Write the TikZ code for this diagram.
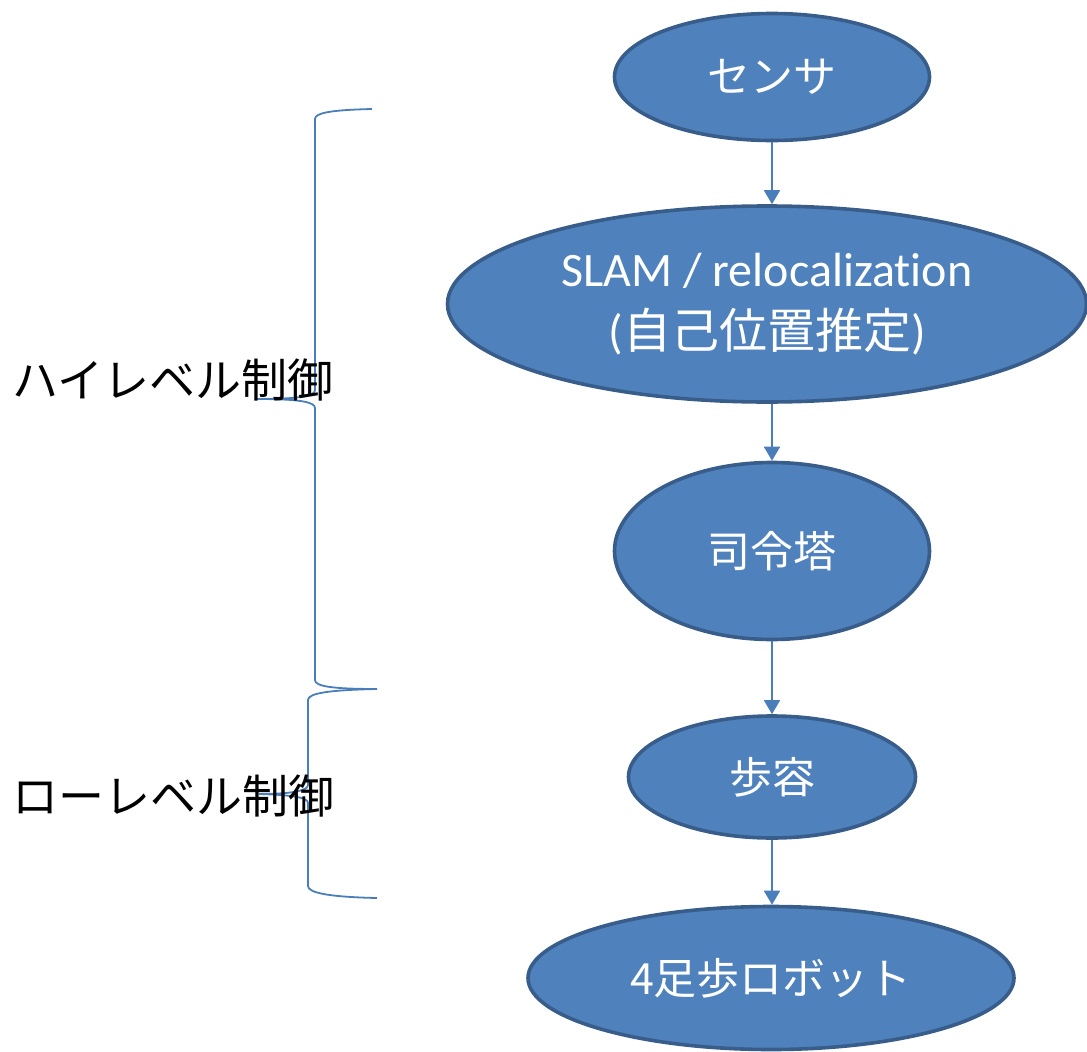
\documentclass[tikz,border=0pt]{standalone}
\usepackage{fontspec}
\setmainfont{Carlito}
\newfontfamily\jp{Noto Sans CJK JP}
\newfontfamily\lat{Carlito}[Ligatures=NoCommon]
\usetikzlibrary{shapes.geometric,arrows.meta}
\definecolor{fillblue}{HTML}{4F81BD}
\definecolor{edgeblue}{HTML}{385D8A}
\definecolor{linkblue}{HTML}{4A7EBB}
\tikzset{
  bubble/.style={ellipse, draw=edgeblue, fill=fillblue, line width=3.6pt, text=white,
    inner sep=0pt, align=center, font=\fontsize{43}{62}\selectfont\jp},
  bigtext/.style={font=\fontsize{48}{62}\selectfont\jp},
  link/.style={draw=linkblue, line width=1.8pt, -{Triangle[width=16pt,length=14pt]}},
  bracket/.style={draw=linkblue, line width=1.8pt},
  sidelabel/.style={anchor=west, inner sep=0pt, text=black, font=\fontsize{46}{50}\selectfont\jp}
}
\begin{document}
\begin{tikzpicture}[x=1pt,y=-1pt]
\useasboundingbox (0,0) rectangle (1087,1052);
\node[bubble, minimum width=315pt, minimum height=127pt] (sensor) at (772,77) {センサ};
\node[bubble, bigtext, minimum width=639pt, minimum height=196pt] (slam) at (767,304)
  {{\lat SLAM / relocalization}\\{\lat (}自己位置推定{\lat )}};
\node[bubble, minimum width=315pt, minimum height=177pt] (cmd) at (772,551) {司令塔};
\node[bubble, minimum width=287pt, minimum height=122pt] (gait) at (772,777) {歩容};
\node[bubble, minimum width=486pt, minimum height=143pt] (robot) at (771,978) {4足歩ロボット};

\draw[link] (sensor.south) -- (sensor.south |- slam.north);
\draw[link] (slam.south -| cmd.north) -- (cmd.north);
\draw[link] (cmd.south) -- (gait.north);
\draw[link] (gait.south) -- (gait.south |- robot.north);

\coordinate (b1top) at (372,109);
\coordinate (b1tip) at (257,399);
\coordinate (bmid) at (377,689);
\coordinate (b2tip) at (259,794);
\coordinate (b2bot) at (377,898);

\draw[bracket] (b1top) .. controls (330,110) and (315,113) .. (315,119) -- (315,390)
  .. controls (315,396) and (300,399) .. (b1tip)
  .. controls (300,399) and (315,402) .. (315,408) -- (315,680)
  .. controls (315,686) and (330,689) .. (bmid);
\draw[bracket] (bmid) .. controls (330,690) and (308,693) .. (308,700) -- (308,785)
  .. controls (308,790) and (295,794) .. (b2tip)
  .. controls (295,795) and (308,798) .. (308,803) -- (308,886)
  .. controls (308,893) and (330,897) .. (b2bot);

\node[sidelabel] (high) at (12,380) {ハイレベル制御};
\node[sidelabel] (low) at (12,796) {ローレベル制御};
\end{tikzpicture}
\end{document}
